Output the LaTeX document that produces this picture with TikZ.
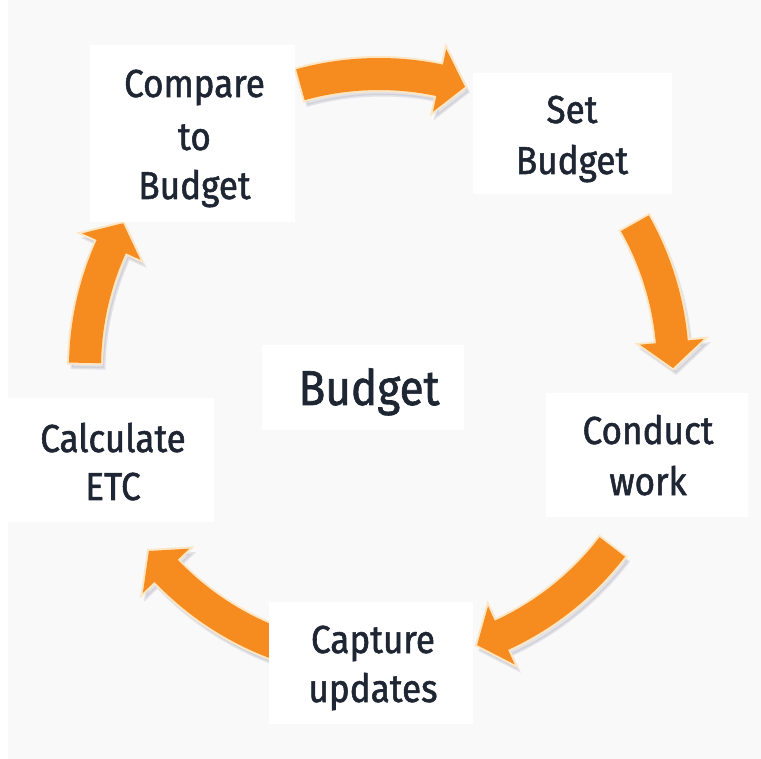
\documentclass[tikz,border=0pt]{standalone}
\usepackage{fontspec}
\setmainfont{Fira Sans}[FakeStretch=0.9, FakeBold=1.4]
\usetikzlibrary{calc}

\definecolor{canvas}{RGB}{249,249,249}
\definecolor{ink}{RGB}{31,38,51}
\definecolor{arroworange}{RGB}{246,139,31}
\definecolor{halo}{RGB}{253,230,196}
\definecolor{dropshade}{RGB}{175,175,190}

\tikzset{
  card/.style={fill=white, draw=none, inner sep=0pt},
  lbl/.style={text=ink, font=\fontsize{39}{47}\selectfont, anchor=base, inner sep=0pt},
  hub/.style={text=ink, font=\fontsize{49}{58}\selectfont, anchor=base, inner sep=0pt},
  ringfill/.style={fill=arroworange},
  ringhalo/.style={draw=halo, line width=4pt, line join=miter},
  ringshadow/.style={fill=dropshade, draw=dropshade, line width=3pt, opacity=0.3},
}

% Curved cycle arrow on the ring: #1 tail angle, #2 tip angle, #3 style
\newcommand{\cyclearrow}[3]{%
  \pgfmathsetmacro\headbase{#2-5.1}%
  \path[#3] (#1:310) arc[start angle=#1, end angle=\headbase, radius=310]
    -- (\headbase:326) -- (#2:294) -- (\headbase:262) -- (\headbase:278)
    arc[start angle=\headbase, end angle=#1, radius=278] -- cycle;
}

\begin{document}
\begin{tikzpicture}[x=1pt, y=-1pt]
  % page and canvas
  \fill[white] (0,0) rectangle (761,759);
  \fill[canvas] (8,0) rectangle (761,759);
  \useasboundingbox (0,0) rectangle (761,759);

  % ring of arrows around the hub
  \begin{scope}[shift={(379,368)}]
    \foreach \a/\b in {-105.5/-73, -29.5/0, 37.5/70.5, 108/141.5, 181/209.5} {
      \begin{scope}[shift={(3,5)}]
        \cyclearrow{\a}{\b}{ringshadow}
      \end{scope}
      \cyclearrow{\a}{\b}{ringhalo}
      \cyclearrow{\a}{\b}{ringfill}
    }
  \end{scope}

  % white cards behind the labels
  \node[card, minimum width=205pt, minimum height=177pt] (cmpCard) at (192.5,133.5) {};
  \node[card, minimum width=199pt, minimum height=121pt] (setCard) at (572.5,133.5) {};
  \node[card, minimum width=202pt, minimum height=124pt] (conCard) at (647,455) {};
  \node[card, minimum width=204pt, minimum height=122pt] (capCard) at (371,663) {};
  \node[card, minimum width=214pt, minimum height=124pt] (calCard) at (107,460) {};
  \node[card, minimum width=202pt, minimum height=85pt]  (hubCard) at (363,387.5) {};

  % labels
  \node[lbl] (cmpA) at (194.5,97)  {Compare};
  \node[lbl] (cmpB) at (194.5,150) {to};
  \node[lbl] (cmpC) at (194.5,199) {Budget};

  \node[lbl] (setA) at (572,123) {Set};
  \node[lbl] (setB) at (572,174) {Budget};

  \node[lbl] (conA) at (648,444) {Conduct};
  \node[lbl] (conB) at (648,495) {work};

  \node[lbl] (capA) at (373,653) {Capture};
  \node[lbl] (capB) at (373,702) {updates};

  \node[lbl] (calA) at (113,452) {Calculate};
  \node[lbl] (calB) at (113,500) {ETC};

  \node[hub] (hubT) at (369,405) {Budget};
\end{tikzpicture}
\end{document}
